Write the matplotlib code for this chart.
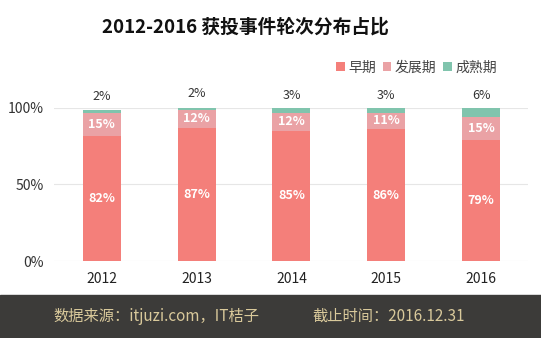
import matplotlib
matplotlib.use("Agg")
import matplotlib.pyplot as plt
from matplotlib.patches import Rectangle
import numpy as np

plt.rcParams['font.family'] = ['Noto Sans CJK SC', 'DejaVu Sans']

years = ["2012", "2013", "2014", "2015", "2016"]
early = [82, 87, 85, 86, 79]
growth = [15, 12, 12, 11, 15]
mature = [2, 2, 3, 3, 6]
series_names = ["早期", "发展期", "成熟期"]
yticks = [0, 50, 100]
ytick_labels = ["0%", "50%", "100%"]
title = "2012-2016 获投事件轮次分布占比"
source_text = "数据来源：itjuzi.com，IT桔子"
date_text = "截止时间：2016.12.31"

c_early = "#f47f7a"
c_growth = "#eaa2a5"
c_mature = "#80c4ad"

fig = plt.figure(figsize=(5.41, 3.38), dpi=100)
ax = fig.add_axes([0.1007, 0.2278, 0.876, 0.4527])

x = np.arange(len(years))
w = 0.4
e = np.array(early) / 100
g = np.array(growth) / 100
m = np.array(mature) / 100
b1 = ax.bar(x, e, w, color=c_early, label=series_names[0], zorder=3)
b2 = ax.bar(x, g, w, bottom=e, color=c_growth, label=series_names[1], zorder=3)
b3 = ax.bar(x, m, w, bottom=e + g, color=c_mature, label=series_names[2], zorder=3)

for i in range(len(years)):
    ax.text(x[i], e[i] / 2, f"{early[i]}%", ha="center", va="center",
            color="white", fontsize=9, fontweight="bold", zorder=4)
    ax.text(x[i], e[i] + g[i] / 2, f"{growth[i]}%", ha="center", va="center",
            color="white", fontsize=9, fontweight="bold", zorder=4)
    ax.text(x[i], e[i] + g[i] + m[i] + 0.04, f"{mature[i]}%", ha="center", va="bottom",
            color="#333333", fontsize=9, clip_on=False, zorder=4)

ax.set_xlim(-0.5, len(years) - 0.5)
ax.set_ylim(0, 1)
ax.set_yticks([v / 100 for v in yticks])
ax.set_yticklabels(ytick_labels, fontsize=10, color="#333333")
ax.set_xticks(x)
ax.set_xticklabels(years, fontsize=10, color="#222222")
ax.tick_params(length=0)
ax.tick_params(axis="x", pad=8)
ax.tick_params(axis="y", pad=8)
for s in ax.spines.values():
    s.set_visible(False)
ax.yaxis.grid(True, color="#e6e6e6", linewidth=0.8, zorder=0)
ax.set_axisbelow(True)

leg = fig.legend(handles=[b1, b2, b3], labels=series_names, loc="center right",
                 bbox_to_anchor=(0.918, 0.80), ncol=3, frameon=False, fontsize=10,
                 handlelength=0.6, handleheight=0.6, handletextpad=0.25, columnspacing=0.5,
                 borderaxespad=0, borderpad=0)
for t in leg.get_texts():
    t.set_color("#444444")

fig.text(0.453, 0.92, title, ha="center", va="center", fontsize=13.5,
         fontweight="bold", color="#111111")

fig.patches.append(Rectangle((0, 0), 1, 0.127, transform=fig.transFigure,
                             color="#3c3b39", zorder=0))
fig.text(0.098, 0.065, source_text, ha="left", va="center", fontsize=11, color="#d9c99b")
fig.text(0.577, 0.065, date_text, ha="left", va="center", fontsize=11, color="#d9c99b")

fig.savefig("out.png", dpi=100)
